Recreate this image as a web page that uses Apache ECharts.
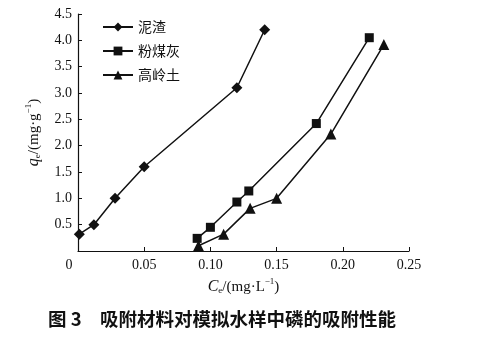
<!DOCTYPE html>
<html><head><meta charset="utf-8">
<script src="https://cdn.jsdelivr.net/npm/echarts@6/dist/echarts.min.js"></script>
<style>html,body{margin:0;padding:0;background:#fff}#c{width:489px;height:338px}</style>
</head><body><div id="c"></div>
<script>
var seriesNames = ['泥渣', '粉煤灰', '高岭土'];
var niZhaX = [0.001, 0.012, 0.028, 0.050, 0.120, 0.141];
var niZhaY = [0.32, 0.50, 1.00, 1.60, 3.10, 4.20];
var feiX = [0.090, 0.100, 0.120, 0.129, 0.180, 0.220];
var feiY = [0.24, 0.45, 0.93, 1.14, 2.42, 4.05];
var gaoX = [0.091, 0.110, 0.130, 0.150, 0.191, 0.231];
var gaoY = [0.10, 0.32, 0.81, 1.00, 2.22, 3.92];
var xTicks = [0, 0.05, 0.10, 0.15, 0.20, 0.25];
var yTicks = [0.5, 1.0, 1.5, 2.0, 2.5, 3.0, 3.5, 4.0, 4.5];

function pairs(xs, ys){ return xs.map(function(x,i){return [x, ys[i]];}); }
var serif = 'Liberation Serif';
var cjk = 'Noto Sans CJK SC';
var symbols = ['diamond', 'rect', 'triangle'];
var sizes = [11, 9, 11];
var datas = [pairs(niZhaX, niZhaY), pairs(feiX, feiY), pairs(gaoX, gaoY)];

var nameRich = {
  i: {fontFamily: serif, fontStyle: 'italic', fontSize: 16, color: '#111', verticalAlign: 'bottom', lineHeight: 18},
  s: {fontFamily: serif, fontSize: 9, color: '#111', verticalAlign: 'bottom', lineHeight: 16},
  n: {fontFamily: serif, fontSize: 15, color: '#111', verticalAlign: 'bottom', lineHeight: 18},
  p: {fontFamily: serif, fontSize: 9, color: '#111', verticalAlign: 'top', lineHeight: 18}
};

var chart = echarts.init(document.getElementById('c'), null, {renderer:'canvas'});
chart.setOption({
  animation: false,
  backgroundColor: '#fff',
  title: {
    text: '图 3\u3000吸附材料对模拟水样中磷的吸附性能',
    left: 43, top: 305,
    textStyle: {fontFamily: cjk, fontSize: 18.5, fontWeight: 'bold', color: '#111'}
  },
  legend: {
    orient: 'vertical', left: 97, top: 15,
    itemWidth: 30, itemHeight: 11, itemGap: 10,
    data: seriesNames,
    textStyle: {fontFamily: cjk, fontSize: 14, color: '#111'}
  },
  grid: {left: 78, right: 80, top: 14, bottom: 87, containLabel: false},
  xAxis: {
    type: 'value', min: 0, max: 0.25, interval: 0.05,
    name: '{i|C}{s|e}{n|/(mg·L}{p|−1}{n|)}',
    nameLocation: 'middle', nameGap: 23,
    nameTextStyle: {rich: nameRich},
    axisLine: {lineStyle: {color: '#111', width: 1.2}},
    axisTick: {inside: true, length: 4, lineStyle: {color: '#111'}},
    splitLine: {show: false},
    axisLabel: {
      margin: 7,
      fontFamily: serif, fontSize: 14, color: '#111',
      formatter: function(v){ return v === 0 ? '{z|0}' : v.toFixed(2); },
      rich: {z: {fontFamily: serif, fontSize: 14, color: '#111', padding: [0, 18, 0, 0]}}
    }
  },
  yAxis: {
    type: 'value', min: 0, max: 4.5, interval: 0.5,
    name: '{i|q}{s|e}{n|/(mg·g}{p|−1}{n|)}',
    nameLocation: 'middle', nameGap: 36, nameRotate: 90,
    nameTextStyle: {rich: nameRich},
    axisLine: {show: true, lineStyle: {color: '#111', width: 1.2}},
    axisTick: {show: true, inside: true, length: 4, lineStyle: {color: '#111'}},
    splitLine: {show: false},
    axisLabel: {
      margin: 6, fontFamily: serif, fontSize: 14, color: '#111',
      formatter: function(v){ return yTicks.some(function(t){return Math.abs(t-v)<1e-9;}) ? v.toFixed(1) : ''; }
    }
  },
  series: seriesNames.map(function(n, i){
    return {
      name: n, type: 'line', data: datas[i],
      symbol: symbols[i], symbolSize: sizes[i], showSymbol: true,
      lineStyle: {color: '#111', width: 1.5},
      itemStyle: {color: '#111', borderWidth: 0}
    };
  })
});
</script></body></html>
